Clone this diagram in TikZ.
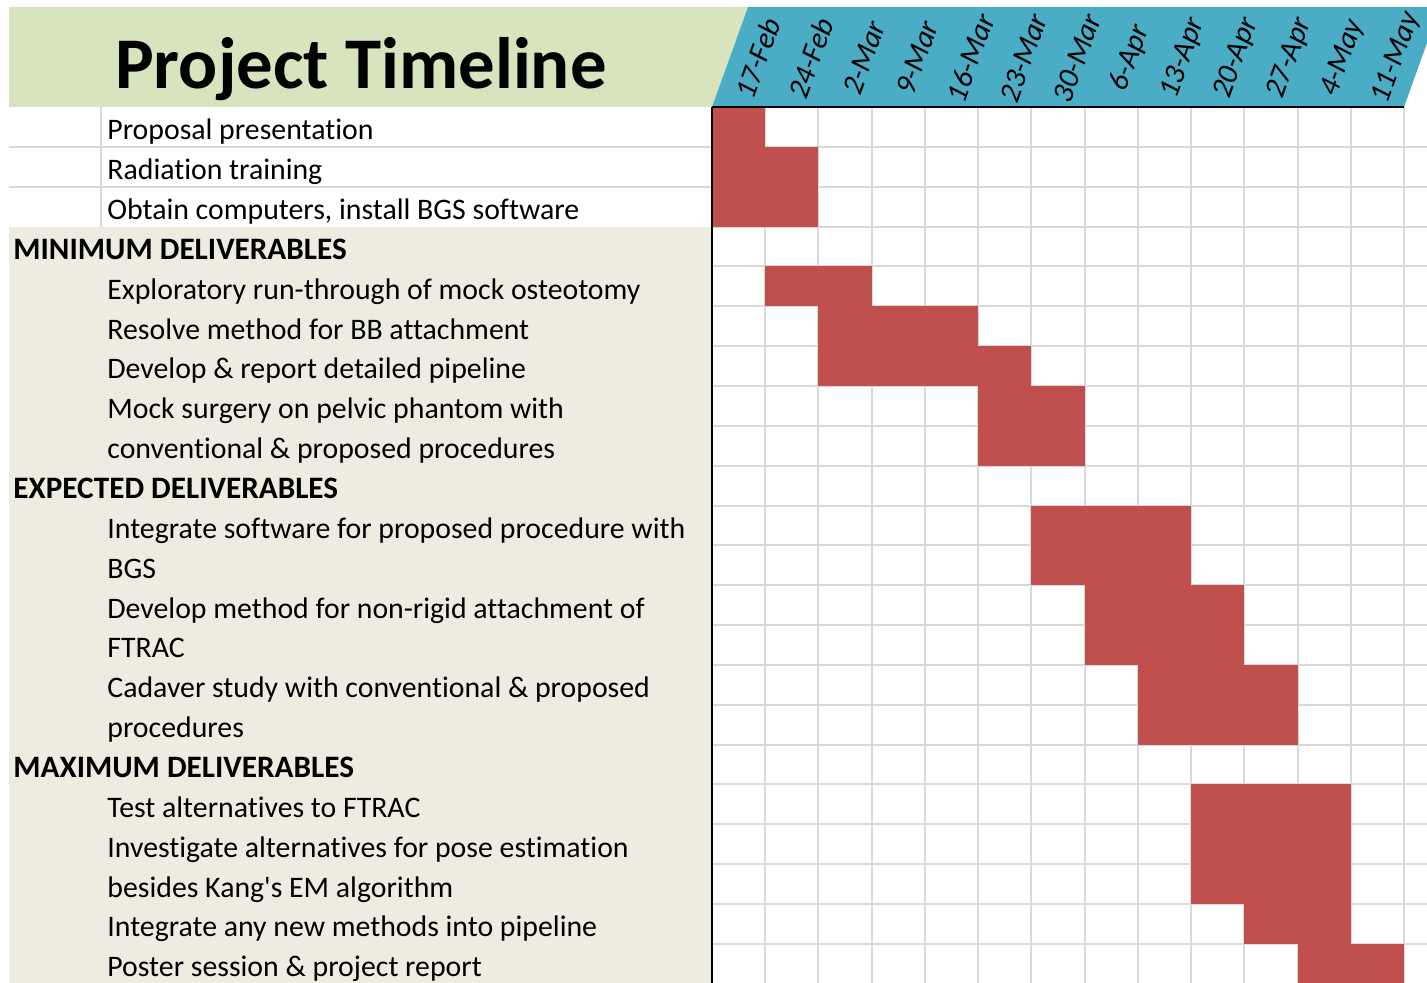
\documentclass[tikz,border=0pt]{standalone}
\usepackage{fontspec}
\setmainfont{Carlito}[Ligatures={NoCommon}]
\definecolor{headgreen}{HTML}{D7E4BD}
\definecolor{headblue}{HTML}{4BACC6}
\definecolor{panel}{HTML}{EEECE1}
\definecolor{gridgray}{HTML}{D9D9D9}
\definecolor{barred}{HTML}{C0504D}
\tikzset{
  task/.style={anchor=base west, inner sep=0pt, font=\fontsize{14.9}{18}\selectfont},
  sect/.style={anchor=base west, inner sep=0pt, font=\fontsize{15.6}{18}\selectfont\bfseries},
  datelbl/.style={rotate=70, inner sep=0pt, font=\fontsize{15}{18}\selectfont\itshape},
  titletext/.style={anchor=base, inner sep=0pt, font=\fontsize{36.4}{40}\selectfont\bfseries},
  gridline/.style={draw=gridgray, line width=1pt},
  bar/.style={fill=barred},
  edge/.style={draw=black, line width=1pt},
}
\begin{document}
\begin{tikzpicture}[x=0.5pt,y=-0.5pt]
\def\cw{53.23}
\def\rh{39.85}
\useasboundingbox (0,0) rectangle (1427,983);
\fill[white] (0,0) rectangle (1427,983);

% title band and slanted date band
\fill[headgreen] (9,7) -- (748,7) -- (712,107) -- (9,107) -- cycle;
\fill[headblue] (712,107) -- (748,7) -- (1427,7) -- (1427,43) -- (1404,107) -- cycle;

% task list panel
\fill[panel] (9,{107+3*\rh}) rectangle (712,983);
\foreach \j in {1,2} \draw[gridline] (9,{107+\j*\rh}) -- (712,{107+\j*\rh});
\draw[gridline] (101,107) -- (101,{107+3*\rh});

% week grid
\foreach \k in {1,...,13} \draw[gridline] ({712+\k*\cw},107) -- ({712+\k*\cw},983);
\foreach \j in {1,...,21} \draw[gridline] (712,{107+\j*\rh}) -- (1427,{107+\j*\rh});

% scheduled weeks: first col / last col (exclusive) / first row / last row (exclusive)
\foreach \a/\b/\p/\q in {0/1/0/1, 0/2/1/3, 1/3/4/5, 2/5/5/6, 2/6/6/7, 5/7/7/9,
  6/9/10/12, 7/10/12/14, 8/11/14/16, 9/12/17/20, 10/12/20/21, 11/13/21/22}
  \fill[bar] ({712+\a*\cw},{107+\p*\rh}) rectangle ({712+\b*\cw},{107+\q*\rh});

\draw[edge] (712,107) -- (1404,107);
\draw[edge] (712,107) -- (712,983);

% title
\node[titletext] (title) at (361,89) {Project Timeline};

% week labels
\foreach \k/\d in {0/17-Feb, 1/24-Feb, 2/2-Mar, 3/9-Mar, 4/16-Mar, 5/23-Mar, 6/30-Mar,
  7/6-Apr, 8/13-Apr, 9/20-Apr, 10/27-Apr, 11/4-May, 12/11-May}
  \node[datelbl] (wk\k) at ({712+(\k+0.5)*\cw+19},58) {\d};

% section headings
\foreach \r/\t in {3/MINIMUM DELIVERABLES, 9/EXPECTED DELIVERABLES, 16/MAXIMUM DELIVERABLES}
  \node[sect] (row\r) at (13,{107+(\r+1)*\rh-7}) {\t};

% tasks
\foreach \r/\t in {
  0/Proposal presentation,
  1/Radiation training,
  2/{Obtain computers, install BGS software},
  4/Exploratory run-through of mock osteotomy,
  5/Resolve method for BB attachment,
  6/Develop \& report detailed pipeline,
  7/Mock surgery on pelvic phantom with,
  8/conventional \& proposed procedures,
  10/Integrate software for proposed procedure with,
  11/BGS,
  12/Develop method for non-rigid attachment of,
  13/FTRAC,
  14/Cadaver study with conventional \& proposed,
  15/procedures,
  17/Test alternatives to FTRAC,
  18/Investigate alternatives for pose estimation,
  19/besides Kang\textquotesingle s EM algorithm,
  20/Integrate any new methods into pipeline,
  21/Poster session \& project report}
  \node[task] (row\r) at (107,{107+(\r+1)*\rh-7}) {\t};
\end{tikzpicture}
\end{document}
